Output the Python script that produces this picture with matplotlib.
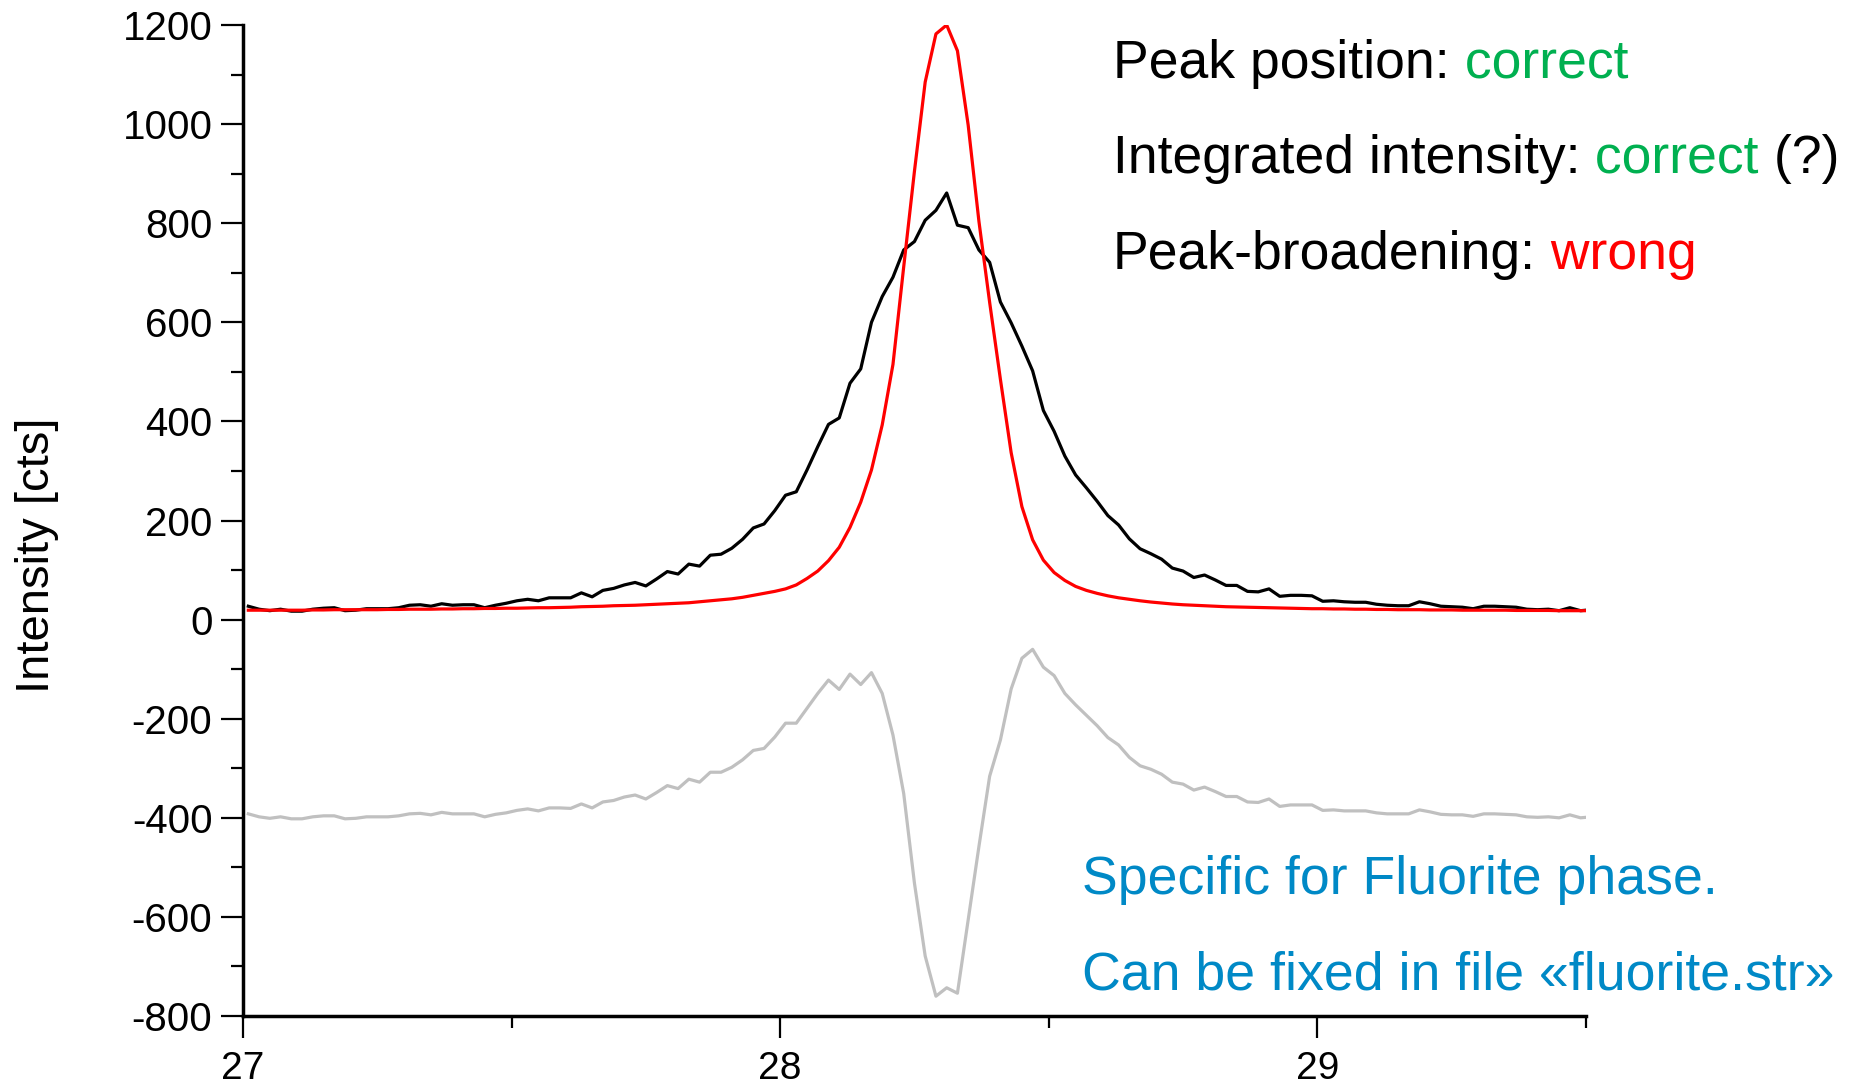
import numpy as np
import matplotlib
matplotlib.use("Agg")
import matplotlib.pyplot as plt
from matplotlib.ticker import MultipleLocator

plt.rcParams['font.family'] = ['Liberation Sans', 'DejaVu Sans']
plt.rcParams['axes.unicode_minus'] = False

# 2theta grid of the scan (step 0.02 deg)
two_theta = np.round(np.linspace(27.01, 29.51, 126), 2)

# observed intensity [cts]
obs = [27, 21, 18, 21, 17, 17, 21, 23, 24, 18,
       19, 22, 22, 22, 24, 29, 30, 27, 32, 29,
       30, 30, 24, 29, 33, 38, 41, 38, 44, 44,
       44, 54, 46, 59, 63, 70, 75, 68, 82, 97,
       92, 112, 108, 130, 132, 144, 162, 185, 193, 220,
       251, 258, 302, 349, 394, 407, 477, 506, 600, 652,
       691, 746, 763, 806, 826, 861, 796, 791, 746, 721,
       641, 599, 552, 502, 422, 380, 330, 292, 266, 239,
       210, 191, 163, 143, 133, 122, 104, 98, 85, 90,
       80, 69, 69, 57, 56, 62, 47, 49, 49, 48,
       37, 38, 36, 35, 35, 31, 29, 28, 28, 36,
       32, 27, 26, 25, 22, 27, 27, 26, 25, 21,
       20, 21, 18, 24, 18, 20]

# calculated profile [cts]
calc = [19, 19, 19, 19, 19, 19, 19.5, 19.5, 20, 20,
        20, 20, 20, 20.5, 20.5, 21, 21, 21, 21.5, 21.5,
        22, 22, 22.5, 22.5, 23, 23, 23.5, 24, 24, 24.5,
        25, 26, 26.5, 27, 28, 28.5, 29, 30, 31, 32,
        33, 34, 36, 38, 40, 42, 45, 49, 53, 57,
        62, 70, 83, 98, 119, 146, 186, 237, 302, 393,
        515, 712, 905, 1085, 1182, 1200, 1148, 998, 804, 640,
        485, 337, 228, 161, 120, 95, 79, 67, 59, 53,
        48, 44, 41, 38, 35.5, 33.5, 31.5, 30, 29, 28,
        27, 26, 25.5, 25, 24.5, 24, 23.5, 23, 22.5, 22,
        22, 21.5, 21.5, 21, 21, 20.5, 20.5, 20, 20, 20,
        19.5, 19.5, 19.5, 19, 19, 19, 19, 19, 18.5, 18.5,
        18.5, 18.5, 18, 18, 18, 18]

# difference curve (shifted down by 400)
diff = [-392, -398, -401, -398, -402, -402, -398, -396, -396, -402,
        -401, -398, -398, -398, -396, -392, -391, -394, -389, -392,
        -392, -392, -398, -393, -390, -385, -382, -386, -380, -380,
        -381, -372, -380, -368, -365, -358, -354, -362, -349, -335,
        -341, -322, -328, -308, -308, -298, -283, -264, -260, -237,
        -209, -209, -179, -149, -122, -141, -110, -131, -107, -149,
        -233, -351, -532, -679, -760, -743, -754, -606, -458, -316,
        -243, -140, -78, -60, -96, -113, -149, -172, -193, -214,
        -238, -253, -278, -295, -302, -312, -328, -332, -344, -338,
        -347, -357, -357, -368, -369, -362, -377, -374, -374, -374,
        -385, -384, -386, -386, -386, -390, -392, -392, -392, -384,
        -388, -393, -394, -394, -397, -392, -392, -393, -394, -398,
        -399, -398, -400, -394, -400, -398]

GREEN = '#00B050'
RED = '#FF0000'
BLUE = '#0089C6'

fig = plt.figure(figsize=(18.56, 10.87), dpi=100)
ax = fig.add_axes([0.1309, 0.0653, 0.7236, 0.9117])

ax.plot(two_theta, diff, color='#C0C0C0', lw=2.3)
ax.plot(two_theta, obs, color='black', lw=2.3)
ax.plot(two_theta, calc, color=RED, lw=2.3)

ax.set_xlim(27, 29.5)
ax.set_ylim(-800, 1200)
ax.xaxis.set_major_locator(MultipleLocator(1))
ax.xaxis.set_minor_locator(MultipleLocator(0.5))
ax.yaxis.set_major_locator(MultipleLocator(200))
ax.yaxis.set_minor_locator(MultipleLocator(100))

for s in ['top', 'right']:
    ax.spines[s].set_visible(False)
for s in ['left', 'bottom']:
    ax.spines[s].set_linewidth(2.5)

ax.tick_params(which='major', direction='out', length=16, width=1.6)
ax.tick_params(which='minor', direction='out', length=8.5, width=1.6)
ax.tick_params(axis='y', which='major', labelsize=29, pad=6)
ax.tick_params(axis='x', which='major', labelsize=28, pad=9)

fig.text(37 / 1856, 1 - 555 / 1087, 'Intensity [cts]', rotation=90,
         fontsize=34, ha='center', va='center')

# annotations, coloured words chained after the black part
def line(x, y, parts):
    t = fig.text(x / 1856, 1 - y / 1087, parts[0][0], color=parts[0][1],
                 fontsize=38.5, va='baseline')
    for txt, col in parts[1:]:
        t = ax.annotate(txt, xy=(1, 0), xycoords=t, color=col, fontsize=38.5,
                        va='bottom', ha='left', annotation_clip=False)

line(1113, 78, [('Peak position:', 'black'), (' correct', GREEN)])
line(1113, 173, [('Integrated intensity:', 'black'), (' correct', GREEN), (' (?)', 'black')])
line(1113, 269, [('Peak-broadening:', 'black'), (' wrong', RED)])

fig.text(1082 / 1856, 1 - 894 / 1087, 'Specific for Fluorite phase.',
         color=BLUE, fontsize=38.6, va='baseline')
fig.text(1082 / 1856, 1 - 990 / 1087, 'Can be fixed in file \u00abfluorite.str\u00bb',
         color=BLUE, fontsize=38.6, va='baseline')

fig.savefig('out.png', dpi=100, facecolor='white')
